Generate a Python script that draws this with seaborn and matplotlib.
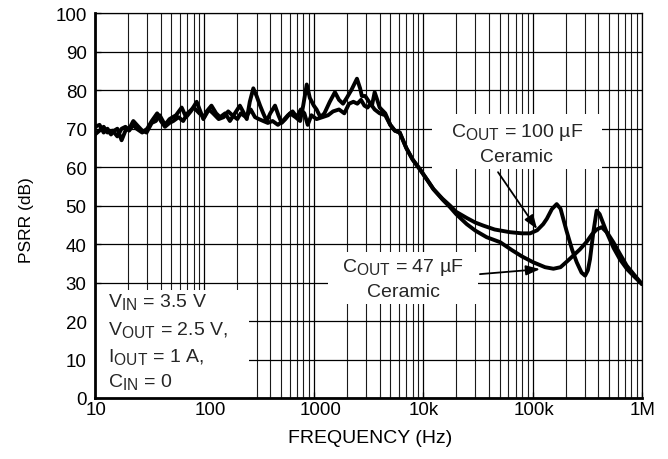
import numpy as np
import pandas as pd
import matplotlib
matplotlib.use("Agg")
import matplotlib.pyplot as plt
import matplotlib.transforms as mtransforms
import seaborn as sns
from matplotlib.patches import Rectangle
from matplotlib.ticker import FixedLocator, FixedFormatter, LogLocator, NullFormatter

try:
    import matplotlib._mathtext as _mt
    _mt.SHRINK_FACTOR = 0.8
except Exception:
    pass

# ---------------- data ----------------
freq_100uF = [10, 11, 12, 13, 14, 15, 16, 17.5, 19, 21, 22.4, 25, 27, 29.6, 33, 36, 39, 43.6,
              48, 55, 62, 68, 75, 85, 97.8, 105, 116, 128, 139, 155, 171, 190, 211, 230, 244,
              260, 280, 300, 323, 345, 371, 400, 442, 475, 508, 550, 606, 680, 750, 800, 862,
              920, 1000, 1060, 1150, 1250, 1400, 1560, 1700, 1850, 2000, 2200, 2480, 2650,
              2750, 2950, 3200, 3400, 3600, 3800, 4000, 4500, 5000, 5500, 6100, 7000, 8000,
              9300, 11000, 12400, 15000, 17600, 20000, 25000, 30000, 35500, 45000, 62000,
              80000, 95000, 110000, 125000, 135000, 150000, 166000, 180000, 204000, 230000,
              253000, 280000, 302000, 320000, 335000, 359000, 385000, 410000, 475000, 550000,
              630000, 730000, 834000, 1000000]
psrr_100uF = [70.5, 71, 69, 70, 68.5, 69.5, 70, 67, 69.5, 70.5, 72, 70.5, 69.5, 69, 71.5, 72,
              73.5, 71, 72.5, 73.5, 75.5, 73, 74.5, 77, 72.5, 74.5, 76, 74, 73, 74, 72, 74, 76,
              74, 72.5, 77, 80.5, 78.5, 76, 74, 72, 74, 76, 73.5, 71.5, 72.5, 74, 73, 72, 76,
              81.5, 78, 76, 75, 73, 74, 77, 79.5, 77.5, 76.5, 78, 80, 83, 80.5, 78.5, 78.5,
              77, 76, 79.5, 77.5, 75.5, 74, 71, 69.5, 69, 65, 62, 59.5, 56.5, 54.3, 51.8, 50,
              48.4, 46.8, 45.6, 44.8, 43.8, 43.1, 42.8, 42.8, 43.6, 45.2, 46.6, 49.1, 50.4,
              49.2, 43.5, 38.5, 35.3, 32.6, 31.8, 33.2, 36.1, 43.1, 48.7, 47.8, 43.1, 39.0,
              36.0, 33.5, 31.8, 29.6]

freq_47uF = [10, 11, 12, 13, 14.5, 16, 17.5, 19, 20.5, 22.4, 24, 27, 30, 33, 37, 40, 43.6, 48,
             52, 58, 64, 70, 80, 90, 100, 110, 120, 135, 150, 165, 180, 200, 215, 240, 265,
             290, 315, 345, 380, 420, 470, 520, 580, 640, 700, 760, 820, 880, 950, 1060, 1200,
             1350, 1500, 1700, 1900, 2100, 2300, 2500, 2700, 2900, 3100, 3300, 3600, 4000,
             4500, 5000, 5500, 6100, 7000, 8000, 9300, 11000, 12400, 15000, 17600, 20000,
             25000, 30000, 38000, 50500, 65000, 80000, 101000, 130000, 155000, 180000, 210000,
             235000, 270000, 312000, 350000, 385000, 428000, 480000, 547000, 630000, 725000,
             850000, 1000000]
psrr_47uF = [68.5, 69.5, 70.5, 69, 69.5, 68, 70, 70.5, 69.5, 71, 70, 69, 70, 72, 74, 72, 70.5,
             71.5, 72, 73, 72, 74, 75.5, 74, 73, 75, 74, 72.5, 73, 74.5, 73.5, 72.5, 74, 73,
             75, 73, 72.5, 72, 71.5, 72, 71, 72, 73.5, 74.5, 73, 75, 74, 71, 73.5, 72.5, 73,
             73.5, 74.5, 75, 74, 76.5, 77, 76.5, 77.5, 76, 75.5, 76.5, 75, 74, 73.5, 71, 69.5,
             69, 65, 62, 59.5, 56.5, 54.3, 51.6, 49.6, 47.8, 45.2, 43.5, 41.8, 40.5, 38.4,
             36.8, 35.3, 34.0, 33.6, 34.0, 35.7, 37.0, 38.6, 40.6, 42.6, 43.8, 44.4, 43.0,
             40.5, 37.4, 34.4, 32.0, 29.6]

x_tick_values = [10, 100, 1000, 10000, 100000, 1000000]
x_tick_labels = ["10", "100", "1000", "10k", "100k", "1M"]
y_tick_values = list(range(0, 101, 10))

df = pd.concat([
    pd.DataFrame({"freq": freq_100uF, "psrr": psrr_100uF, "cap": "100uF"}),
    pd.DataFrame({"freq": freq_47uF, "psrr": psrr_47uF, "cap": "47uF"}),
])

# ---------------- style ----------------
sns.set_theme(style="white")
plt.rcParams["font.family"] = ["Liberation Sans", "DejaVu Sans"]
plt.rcParams["mathtext.fontset"] = "custom"
plt.rcParams["mathtext.rm"] = "Liberation Sans"
plt.rcParams["mathtext.it"] = "Liberation Sans"
plt.rcParams["mathtext.bf"] = "Liberation Sans"

fig = plt.figure(figsize=(6.68, 4.60), dpi=100)
ax = fig.add_axes([95 / 668, 1 - 399 / 460, 547 / 668, (399 - 14.3) / 460])

sns.lineplot(data=df, x="freq", y="psrr", units="cap", estimator=None, sort=False,
             color="black", lw=2.8, ax=ax, zorder=5, legend=False)

ax.set_xscale("log")
ax.set_xlim(10, 1e6)
ax.set_ylim(0, 100)
ax.xaxis.set_major_locator(FixedLocator(x_tick_values))
ax.xaxis.set_major_formatter(FixedFormatter(x_tick_labels))
ax.xaxis.set_minor_locator(LogLocator(base=10, subs=np.arange(2, 10)))
ax.xaxis.set_minor_formatter(NullFormatter())
ax.set_yticks(y_tick_values)

ax.set_axisbelow(True)
ax.grid(which="major", axis="both", color="black", lw=0.9)
ax.grid(which="minor", axis="x", color="#1a1a1a", lw=0.8)

ax.tick_params(axis="both", which="major", direction="in", length=4, width=0.9,
               labelsize=13.5, colors="black", pad=2)
ax.tick_params(axis="y", which="major", pad=6)
ax.tick_params(axis="x", which="minor", direction="in", length=3, width=0.8,
               bottom=True)
ax.tick_params(axis="x", which="major", bottom=True)
ax.tick_params(axis="y", which="major", left=True)

for side in ["top", "right"]:
    ax.spines[side].set_linewidth(0.9)
    ax.spines[side].set_color("black")
for side in ["left", "bottom"]:
    ax.spines[side].set_linewidth(2.0)
    ax.spines[side].set_color("black")

ax.set_xlabel("FREQUENCY (Hz)", fontsize=14, color="black")
ax.set_ylabel("PSRR (dB)", fontsize=12.5, color="black")
ax.xaxis.set_label_coords(0.503, -0.08)
ax.yaxis.set_label_coords(-0.112, 0.465)

# nudge a couple of x tick labels as in the reference
for tick, dx in zip(ax.xaxis.get_major_ticks(), [1, 6, 7, 1, 1, 1]):
    lab = tick.label1
    lab.set_transform(lab.get_transform() +
                      mtransforms.ScaledTranslation(dx / 100, 0, fig.dpi_scale_trans))

# white boxes hiding the grid
for (x0, y0, w, h) in [(0.0, 0.0, 0.2815, 0.281),
                       (0.616, 0.595, 0.311, 0.143),
                       (0.426, 0.244, 0.274, 0.136)]:
    ax.add_patch(Rectangle((x0, y0), w, h, transform=ax.transAxes,
                           facecolor="white", edgecolor="none", zorder=1))

fs = 14
ax.text(0.771, 0.694, r"C$_{\mathrm{OUT}}$ = 100 µF", transform=ax.transAxes,
        ha="center", va="center", fontsize=fs, zorder=6)
ax.text(0.771, 0.629, "Ceramic", transform=ax.transAxes,
        ha="center", va="center", fontsize=fs, zorder=6)
ax.text(0.563, 0.343, r"C$_{\mathrm{OUT}}$ = 47 µF", transform=ax.transAxes,
        ha="center", va="center", fontsize=fs, zorder=6)
ax.text(0.563, 0.278, "Ceramic", transform=ax.transAxes,
        ha="center", va="center", fontsize=fs, zorder=6)

cond_lines = [r"V$_{\mathrm{IN}}$ = 3.5 V", r"V$_{\mathrm{OUT}}$ = 2.5 V,",
              r"I$_{\mathrm{OUT}}$ = 1 A,", r"C$_{\mathrm{IN}}$ = 0"]
for txt, yy in zip(cond_lines, [0.252, 0.179, 0.109, 0.044]):
    ax.text(0.024, yy, txt, transform=ax.transAxes, ha="left", va="center",
            fontsize=fs, zorder=6)

arrow_kw = dict(arrowstyle="-|>,head_length=0.7,head_width=0.25", color="black", lw=1.3,
                shrinkA=0, shrinkB=0)
ax.annotate("", xy=(110000, 43.9), xytext=(48300, 58.7), arrowprops=arrow_kw, zorder=7)
ax.annotate("", xy=(117000, 33.5), xytext=(33000, 32.2), arrowprops=arrow_kw, zorder=7)

fig.savefig("out.png", dpi=100)
